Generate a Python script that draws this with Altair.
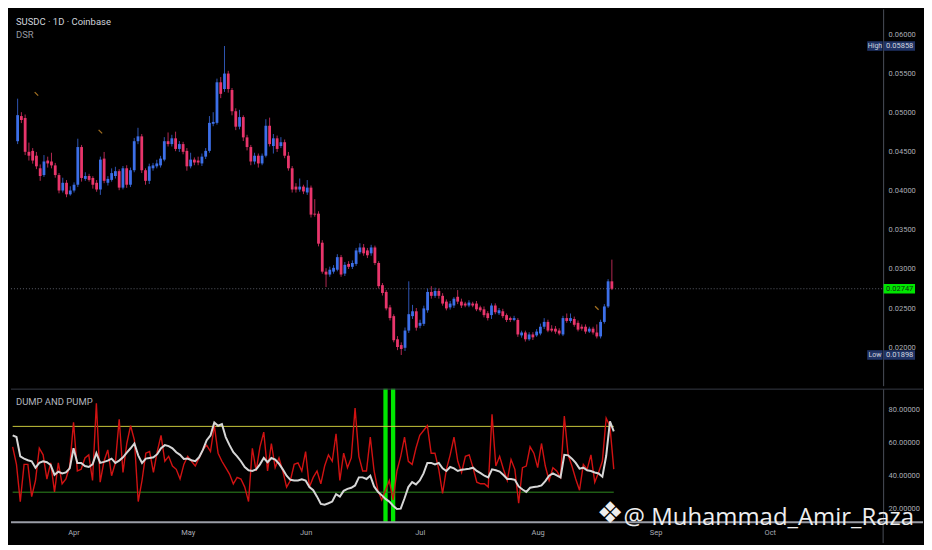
import altair as alt
import pandas as pd
import numpy as np

SYMBOL_TITLE = "SUSDC · 1D · Coinbase"
STUDY_TITLE = "DSR"
OSC_TITLE = "DUMP AND PUMP"
WATERMARK = "@ Muhammad_Amir_Raza"
LOGO = "❖"
START_DATE = "2025-03-16"

OPEN = [
    0.04638, 0.04960, 0.04935, 0.04502, 0.04514, 0.04452, 0.04291, 0.04204, 0.04390, 0.04378,
    0.04328, 0.04204, 0.04006, 0.04105, 0.03957, 0.04006, 0.04080, 0.04563, 0.04155, 0.04192,
    0.04167, 0.04105, 0.04019, 0.04415, 0.04105, 0.04142, 0.04192, 0.04254, 0.04043, 0.04291,
    0.04080, 0.04266, 0.04638, 0.04700, 0.04266, 0.04130, 0.04291, 0.04316, 0.04328, 0.04402,
    0.04638, 0.04601, 0.04675, 0.04539, 0.04601, 0.04514, 0.04316, 0.04402, 0.04390, 0.04353,
    0.04440, 0.04514, 0.04861, 0.04873, 0.05393, 0.05307, 0.05505, 0.05294, 0.05022, 0.04824,
    0.04947, 0.04687, 0.04563, 0.04378, 0.04452, 0.04353, 0.04452, 0.04836, 0.04576, 0.04675,
    0.04576, 0.04625, 0.04452, 0.04291, 0.04056, 0.04019, 0.04056, 0.03981, 0.04043, 0.03709,
    0.03709, 0.03337, 0.02966, 0.02929, 0.02966, 0.02991, 0.03152, 0.02941, 0.03065, 0.03028,
    0.03065, 0.03214, 0.03276, 0.03238, 0.03201, 0.03276, 0.03077, 0.02793, 0.02706, 0.02508,
    0.02396, 0.02099, 0.02025, 0.01990, 0.02211, 0.02396, 0.02458, 0.02272, 0.02297, 0.02471,
    0.02706, 0.02656, 0.02718, 0.02656, 0.02582, 0.02508, 0.02532, 0.02644, 0.02582, 0.02557,
    0.02532, 0.02557, 0.02557, 0.02508, 0.02483, 0.02433, 0.02409, 0.02532, 0.02433, 0.02458,
    0.02409, 0.02371, 0.02347, 0.02347, 0.02149, 0.02186, 0.02099, 0.02161, 0.02149, 0.02173,
    0.02260, 0.02322, 0.02235, 0.02235, 0.02211, 0.02161, 0.02371, 0.02334, 0.02359, 0.02310,
    0.02260, 0.02260, 0.02198, 0.02235, 0.02186, 0.02136, 0.02322, 0.02520, 0.02842,
]
CLOSE = [
    0.04972, 0.04910, 0.04502, 0.04452, 0.04390, 0.04316, 0.04192, 0.04378, 0.04353, 0.04328,
    0.04204, 0.04006, 0.04105, 0.03957, 0.04006, 0.04080, 0.04563, 0.04167, 0.04192, 0.04142,
    0.04080, 0.04019, 0.04402, 0.04130, 0.04155, 0.04229, 0.04254, 0.04043, 0.04291, 0.04080,
    0.04266, 0.04638, 0.04700, 0.04266, 0.04130, 0.04316, 0.04328, 0.04353, 0.04415, 0.04638,
    0.04601, 0.04675, 0.04539, 0.04601, 0.04502, 0.04316, 0.04402, 0.04365, 0.04365, 0.04440,
    0.04514, 0.04873, 0.04885, 0.05393, 0.05245, 0.05505, 0.05307, 0.05022, 0.04824, 0.04947,
    0.04687, 0.04563, 0.04378, 0.04452, 0.04353, 0.04452, 0.04836, 0.04601, 0.04675, 0.04539,
    0.04625, 0.04452, 0.04291, 0.04019, 0.04019, 0.04056, 0.03994, 0.04043, 0.03697, 0.03697,
    0.03325, 0.02966, 0.02929, 0.02991, 0.03015, 0.03152, 0.02929, 0.03053, 0.03028, 0.03077,
    0.03238, 0.03276, 0.03201, 0.03176, 0.03276, 0.03077, 0.02780, 0.02693, 0.02495, 0.02371,
    0.02087, 0.02000, 0.01975, 0.02211, 0.02421, 0.02458, 0.02248, 0.02310, 0.02495, 0.02706,
    0.02656, 0.02718, 0.02656, 0.02557, 0.02495, 0.02557, 0.02619, 0.02582, 0.02532, 0.02532,
    0.02570, 0.02532, 0.02483, 0.02471, 0.02409, 0.02371, 0.02532, 0.02446, 0.02471, 0.02396,
    0.02347, 0.02347, 0.02371, 0.02161, 0.02186, 0.02099, 0.02161, 0.02124, 0.02198, 0.02260,
    0.02322, 0.02211, 0.02211, 0.02198, 0.02173, 0.02371, 0.02334, 0.02371, 0.02285, 0.02223,
    0.02235, 0.02198, 0.02235, 0.02186, 0.02136, 0.02322, 0.02520, 0.02842, 0.02747,
]
HIGH = [
    0.05183, 0.05010, 0.04980, 0.04620, 0.04550, 0.04500, 0.04340, 0.04460, 0.04440, 0.04490,
    0.04360, 0.04230, 0.04170, 0.04140, 0.04060, 0.04110, 0.04670, 0.04590, 0.04240, 0.04220,
    0.04190, 0.04140, 0.04440, 0.04500, 0.04190, 0.04290, 0.04310, 0.04280, 0.04320, 0.04330,
    0.04300, 0.04680, 0.04810, 0.04730, 0.04290, 0.04350, 0.04360, 0.04400, 0.04450, 0.04690,
    0.04750, 0.04720, 0.04760, 0.04640, 0.04630, 0.04550, 0.04490, 0.04430, 0.04440, 0.04480,
    0.04550, 0.04960, 0.05010, 0.05440, 0.05460, 0.05858, 0.05540, 0.05320, 0.05060, 0.05040,
    0.04970, 0.04720, 0.04590, 0.04490, 0.04480, 0.04480, 0.04920, 0.04940, 0.04730, 0.04710,
    0.04690, 0.04660, 0.04500, 0.04320, 0.04100, 0.04160, 0.04080, 0.04140, 0.04070, 0.03895,
    0.03740, 0.03370, 0.03010, 0.03030, 0.03050, 0.03190, 0.03180, 0.03090, 0.03100, 0.03110,
    0.03270, 0.03330, 0.03320, 0.03270, 0.03310, 0.03300, 0.03100, 0.02820, 0.02730, 0.02540,
    0.02420, 0.02140, 0.02060, 0.02250, 0.02842, 0.02540, 0.02500, 0.02350, 0.02530, 0.02750,
    0.02780, 0.02760, 0.02750, 0.02690, 0.02610, 0.02590, 0.02640, 0.02730, 0.02620, 0.02580,
    0.02600, 0.02580, 0.02590, 0.02530, 0.02520, 0.02460, 0.02560, 0.02560, 0.02500, 0.02490,
    0.02430, 0.02390, 0.02400, 0.02370, 0.02210, 0.02210, 0.02190, 0.02190, 0.02230, 0.02300,
    0.02370, 0.02350, 0.02280, 0.02270, 0.02240, 0.02400, 0.02430, 0.02430, 0.02390, 0.02340,
    0.02290, 0.02290, 0.02260, 0.02260, 0.02290, 0.02350, 0.02550, 0.02870, 0.03120,
]
LOW = [
    0.04601, 0.04870, 0.04460, 0.04390, 0.04350, 0.04280, 0.04130, 0.04180, 0.04300, 0.04290,
    0.04170, 0.03970, 0.03980, 0.03920, 0.03940, 0.03980, 0.04050, 0.04120, 0.04130, 0.04120,
    0.04030, 0.03990, 0.03950, 0.04100, 0.04070, 0.04120, 0.04160, 0.04010, 0.04020, 0.04040,
    0.04050, 0.04240, 0.04600, 0.04230, 0.04080, 0.04090, 0.04260, 0.04290, 0.04300, 0.04380,
    0.04570, 0.04570, 0.04510, 0.04500, 0.04470, 0.04260, 0.04290, 0.04330, 0.04330, 0.04320,
    0.04410, 0.04490, 0.04830, 0.04850, 0.05190, 0.05270, 0.05260, 0.04970, 0.04780, 0.04790,
    0.04640, 0.04520, 0.04330, 0.04340, 0.04300, 0.04330, 0.04430, 0.04570, 0.04480, 0.04500,
    0.04550, 0.04420, 0.04260, 0.03980, 0.03980, 0.03990, 0.03960, 0.03950, 0.03660, 0.03670,
    0.03290, 0.02940, 0.02768, 0.02900, 0.02940, 0.02970, 0.02900, 0.02910, 0.03000, 0.03000,
    0.03040, 0.03190, 0.03170, 0.03140, 0.03170, 0.03050, 0.02750, 0.02660, 0.02470, 0.02340,
    0.02060, 0.01960, 0.01898, 0.01950, 0.02180, 0.02360, 0.02210, 0.02240, 0.02270, 0.02440,
    0.02620, 0.02630, 0.02620, 0.02530, 0.02470, 0.02480, 0.02500, 0.02550, 0.02500, 0.02510,
    0.02510, 0.02510, 0.02460, 0.02450, 0.02380, 0.02340, 0.02360, 0.02420, 0.02410, 0.02370,
    0.02320, 0.02320, 0.02330, 0.02130, 0.02120, 0.02070, 0.02080, 0.02090, 0.02130, 0.02150,
    0.02230, 0.02190, 0.02190, 0.02170, 0.02150, 0.02140, 0.02310, 0.02310, 0.02260, 0.02200,
    0.02210, 0.02170, 0.02180, 0.02160, 0.02110, 0.02110, 0.02300, 0.02500, 0.02730,
]
OSC_FAST = [
    57.6, 46.9, 24.3, 46.9, 46.9, 27.3, 37.1, 56.7, 52.7, 38.0,
    47.8, 30.2, 47.8, 35.1, 38.0, 45.9, 72.4, 42.9, 43.9, 50.8,
    52.7, 37.1, 84.1, 36.1, 48.8, 55.7, 40.0, 47.8, 74.3, 42.0,
    59.6, 70.4, 61.6, 24.3, 37.1, 53.7, 54.7, 42.0, 54.7, 64.5,
    48.8, 51.8, 45.9, 43.9, 38.0, 46.9, 51.8, 48.8, 45.9, 50.8,
    55.7, 58.6, 54.7, 70.4, 53.7, 48.8, 44.9, 41.0, 35.1, 39.0,
    38.0, 33.1, 24.3, 56.7, 42.9, 57.6, 66.5, 42.9, 59.6, 44.9,
    50.8, 42.9, 33.1, 37.1, 46.9, 47.8, 42.9, 54.7, 33.1, 39.0,
    42.9, 35.1, 45.9, 52.7, 48.8, 65.5, 37.1, 53.7, 44.9, 50.8,
    81.2, 51.8, 42.9, 42.9, 63.5, 42.9, 31.2, 25.3, 31.2, 37.1,
    25.3, 42.9, 51.8, 63.5, 48.8, 46.9, 56.7, 64.5, 67.5, 70.4,
    53.7, 53.7, 43.9, 29.2, 43.9, 52.7, 63.5, 48.8, 42.0, 51.8,
    52.7, 44.9, 36.1, 35.1, 35.1, 33.1, 77.3, 45.9, 51.8, 43.9,
    37.1, 49.8, 43.9, 23.3, 44.9, 45.9, 57.6, 53.7, 44.9, 59.6,
    45.9, 37.1, 44.9, 42.9, 39.0, 76.3, 52.7, 45.9, 38.0, 31.2,
    46.9, 43.9, 52.7, 36.1, 42.0, 48.8, 75.0, 70.0, 44.0,
]
OSC_SLOW = [
    64.5, 63.5, 51.8, 50.4, 49.4, 48.8, 44.9, 47.8, 48.8, 48.2,
    46.5, 40.6, 42.5, 41.4, 42.0, 44.5, 56.7, 47.8, 47.8, 45.9,
    45.3, 46.9, 53.7, 47.8, 48.4, 49.2, 50.4, 47.8, 49.2, 51.2,
    54.1, 56.7, 59.6, 52.4, 47.8, 50.4, 50.8, 51.2, 53.1, 56.7,
    58.6, 58.0, 56.7, 54.3, 52.7, 50.2, 50.4, 49.4, 48.8, 51.2,
    55.7, 61.6, 64.5, 72.4, 70.4, 71.4, 63.5, 58.6, 54.3, 51.8,
    48.8, 45.3, 43.3, 42.9, 43.9, 46.9, 50.8, 48.2, 50.8, 49.8,
    47.3, 43.9, 40.0, 37.5, 37.1, 37.1, 37.8, 37.1, 33.1, 31.2,
    27.3, 22.9, 22.4, 23.3, 24.3, 28.8, 27.3, 30.8, 32.0, 32.7,
    34.1, 39.0, 39.0, 38.0, 40.0, 33.5, 30.2, 28.2, 25.9, 24.3,
    21.8, 19.8, 20.0, 26.3, 33.1, 36.1, 34.7, 37.1, 41.4, 47.8,
    47.8, 46.9, 47.8, 44.5, 42.9, 45.3, 44.5, 42.9, 43.7, 43.9,
    44.3, 44.9, 42.9, 41.6, 40.0, 39.0, 43.9, 43.3, 42.5, 40.4,
    38.0, 38.0, 37.5, 33.5, 31.6, 30.2, 32.7, 33.1, 33.5, 34.1,
    36.7, 40.0, 41.4, 40.2, 39.0, 52.7, 52.4, 50.4, 47.8, 44.3,
    44.9, 43.3, 42.9, 42.0, 41.4, 39.4, 52.0, 73.0, 67.0,
]

PRICE_TICKS = [0.020, 0.025, 0.030, 0.035, 0.040, 0.045, 0.050, 0.055, 0.060]
OSC_TICKS = [20, 40, 60, 80]
MONTH_TICKS = [(2025, 4), (2025, 5), (2025, 6), (2025, 7), (2025, 8), (2025, 9), (2025, 10)]
LEVELS = [70, 30]
LEVEL_COLORS = ["#c8c63c", "#2f8a1f"]
SIGNAL_DATES = ["2025-06-22", "2025-06-24"]
MARKER_DATES = ["2025-03-21", "2025-04-07", "2025-08-17"]
MARKER_PRICES = [0.05245, 0.04760, 0.02500]
PRICE_DOMAIN = [0.01505, 0.06334]
OSC_DOMAIN = [11.76, 92.94]

assert len(OPEN) == len(CLOSE) == len(HIGH) == len(LOW) == len(OSC_FAST) == len(OSC_SLOW)

# ---- layout / style ----
W, H1, H2, XA = 875, 378, 134, 21
BLUE, PINK = "#3c6fe8", "#e8356b"
AXIS_TXT = "#a9acb5"
NAVY = "#1f3264"
GREEN = "#00e600"
FONT = "Roboto"

dates = pd.date_range(START_DATE, periods=len(CLOSE), freq="D").strftime("%Y-%m-%d")
candles = pd.DataFrame({"date": dates, "open": OPEN, "high": HIGH, "low": LOW, "close": CLOSE})
candles["dir"] = np.where(candles["close"] >= candles["open"], "up", "down")
osc = pd.DataFrame({"date": dates, "fast": OSC_FAST, "slow": OSC_SLOW})

XSCALE = alt.Scale(
    type="utc",
    domain=[alt.DateTime(year=2025, month=3, date=15, hours=13, minutes=26, utc=True),
            alt.DateTime(year=2025, month=10, date=30, hours=19, minutes=12, utc=True)],
)
TOP_XAXIS = alt.Axis(labels=False, ticks=False, domain=False, grid=False, title=None)
BOT_XAXIS = alt.Axis(values=[alt.DateTime(year=y, month=m, date=1, utc=True) for y, m in MONTH_TICKS],
                     labelExpr="utcFormat(datum.value, '%b')", labels=True, ticks=False,
                     domain=False, grid=False, title=None,
                     labelColor=AXIS_TXT, labelFontSize=7.5, labelFont=FONT, labelPadding=6)

PSCALE = alt.Scale(domain=PRICE_DOMAIN, nice=False, zero=False)
PAXIS = alt.Axis(orient="right", values=PRICE_TICKS, format=".5f", ticks=False, domain=True,
                 domainColor="#4a4e59", grid=False, title=None, labelColor=AXIS_TXT,
                 labelFontSize=7.5, labelFont=FONT, labelPadding=5)
OSCALE = alt.Scale(domain=OSC_DOMAIN, nice=False, zero=False)
OAXIS = alt.Axis(orient="right", values=OSC_TICKS, format=".5f", ticks=False, domain=True,
                 domainColor="#4a4e59", grid=False, title=None, labelColor=AXIS_TXT,
                 labelFontSize=7.5, labelFont=FONT, labelPadding=5)


def px(field, axis=TOP_XAXIS):
    return alt.X(field, type="temporal", scale=XSCALE, axis=axis)


def py(field):
    return alt.Y(field, type="quantitative", scale=PSCALE, axis=PAXIS)


def oy(field):
    return alt.Y(field, type="quantitative", scale=OSCALE, axis=OAXIS)


dir_color = alt.Color("dir:N", scale=alt.Scale(domain=["up", "down"], range=[BLUE, PINK]), legend=None)

wicks = alt.Chart(candles).mark_rule(strokeWidth=0.9, opacity=0.85).encode(
    x=px("date"), y=py("low"), y2="high", color=dir_color)
bodies = alt.Chart(candles).mark_bar(size=2.8).encode(
    x=px("date"), y=py("open"), y2="close", color=dir_color)

last_df = pd.DataFrame({"price": [CLOSE[-1]]})
last_line = alt.Chart(last_df).mark_rule(color="#5a5d68", strokeDash=[1, 2], strokeWidth=1).encode(
    y=py("price"), x=alt.value(0), x2=alt.value(W))

markers = alt.Chart(pd.DataFrame({"date": MARKER_DATES, "price": MARKER_PRICES})).mark_point(
    shape="stroke", angle=45, size=25, color="#e8a030", strokeWidth=1.2, filled=False).encode(
    x=px("date"), y=py("price"))

tags = pd.DataFrame({
    "price": [max(HIGH), min(LOW), CLOSE[-1]],
    "tag": ["High", "Low", ""],
    "box": [NAVY, NAVY, GREEN],
    "fg": ["#d1d4dc", "#d1d4dc", "#103010"],
})
value_box = alt.Chart(tags).mark_rect(yOffset=-4.8, y2Offset=4.8).encode(
    y=py("price"), y2="price", x=alt.value(W + 0.5), x2=alt.value(W + 32),
    color=alt.Color("box:N", scale=None))
value_txt = alt.Chart(tags).mark_text(align="left", baseline="middle", fontSize=7.5, font=FONT).encode(
    y=py("price"), x=alt.value(W + 3), text=alt.Text("price:Q", format=".5f"),
    color=alt.Color("fg:N", scale=None))
hl = tags[tags["tag"] != ""]
tag_box = alt.Chart(hl).mark_rect(yOffset=-4.8, y2Offset=4.8, color=NAVY).encode(
    y=py("price"), y2="price", x=alt.value(W - 16), x2=alt.value(W - 0.5))
tag_txt = alt.Chart(hl).mark_text(align="center", baseline="middle", fontSize=7, font=FONT,
                                  color="#d1d4dc").encode(
    y=py("price"), x=alt.value(W - 8.2), text="tag:N")

title_df = pd.DataFrame({"t": [SYMBOL_TITLE, STUDY_TITLE], "yy": [13.5, 26.5],
                         "c": ["#d1d4dc", "#9598a1"]})
titles = alt.Chart(title_df).mark_text(align="left", baseline="middle", fontSize=9.5, font=FONT).encode(
    text="t:N", x=alt.value(5), y=alt.Y("yy:Q", scale=None), color=alt.Color("c:N", scale=None))

top = alt.layer(last_line, wicks, bodies, markers, value_box, value_txt, tag_box, tag_txt,
                titles).properties(width=W, height=H1)

# ---- oscillator panel ----
frame = pd.DataFrame({"c": ["#363a45", "#9a9da6"], "yy": [0.5, H2], "w": [1, 2]})
hlines = alt.Chart(frame).mark_rule().encode(
    y=alt.Y("yy:Q", scale=None), x=alt.value(0), x2=alt.value(W + 40),
    color=alt.Color("c:N", scale=None), strokeWidth=alt.StrokeWidth("w:Q", scale=None))
vline = alt.Chart(pd.DataFrame({"c": [0]})).mark_rule(color="#4a4e59").encode(
    x=alt.value(W), y=alt.value(H2), y2=alt.value(H2 + XA))
sig = alt.Chart(pd.DataFrame({"date": SIGNAL_DATES})).mark_rule(color=GREEN, strokeWidth=4.3).encode(
    x=px("date", BOT_XAXIS), y=alt.value(0), y2=alt.value(H2))
lv = pd.DataFrame({"level": LEVELS, "color": LEVEL_COLORS, "start": [dates[0]] * 2, "end": [dates[-1]] * 2})
levels = alt.Chart(lv).mark_rule(strokeWidth=1).encode(
    x=px("start", BOT_XAXIS), x2="end", y=oy("level"), color=alt.Color("color:N", scale=None))
fast = alt.Chart(osc).mark_line(color="#d01212", strokeWidth=1.4).encode(
    x=px("date", BOT_XAXIS), y=oy("fast"))
slow = alt.Chart(osc).mark_line(color="#d6d6d6", strokeWidth=2).encode(
    x=px("date", BOT_XAXIS), y=oy("slow"))
osc_title = alt.Chart(pd.DataFrame({"t": [OSC_TITLE]})).mark_text(
    align="left", baseline="middle", fontSize=9.5, font=FONT, color="#b2b5be").encode(
    text="t:N", x=alt.value(5), y=alt.value(13.5))
wm = alt.Chart(pd.DataFrame({"t": [WATERMARK]})).mark_text(
    align="right", baseline="alphabetic", fontSize=24, font="Open Sans", color="#eeeeee").encode(
    text="t:N", x=alt.value(906), y=alt.value(137))
logo = alt.Chart(pd.DataFrame({"t": [LOGO]})).mark_text(
    align="center", baseline="middle", fontSize=30, font="DejaVu Sans", color="#eeeeee").encode(
    text="t:N", x=alt.value(601), y=alt.value(126))
spacer = alt.Chart(pd.DataFrame({"t": [0]})).mark_rect(color="#000000").encode(
    x=alt.value(W + 39.5), x2=alt.value(W + 40), y=alt.value(H2 + XA - 0.5), y2=alt.value(H2 + XA))

bottom = alt.layer(sig, levels, fast, slow, hlines, vline, osc_title, wm, logo, spacer).properties(
    width=W, height=H2)

chart = alt.vconcat(top, bottom, spacing=0).properties(padding=0).configure(
    background="#000000").configure_view(stroke=None)

chart.save("out.html", embed_options={"renderer": "svg", "actions": False})
